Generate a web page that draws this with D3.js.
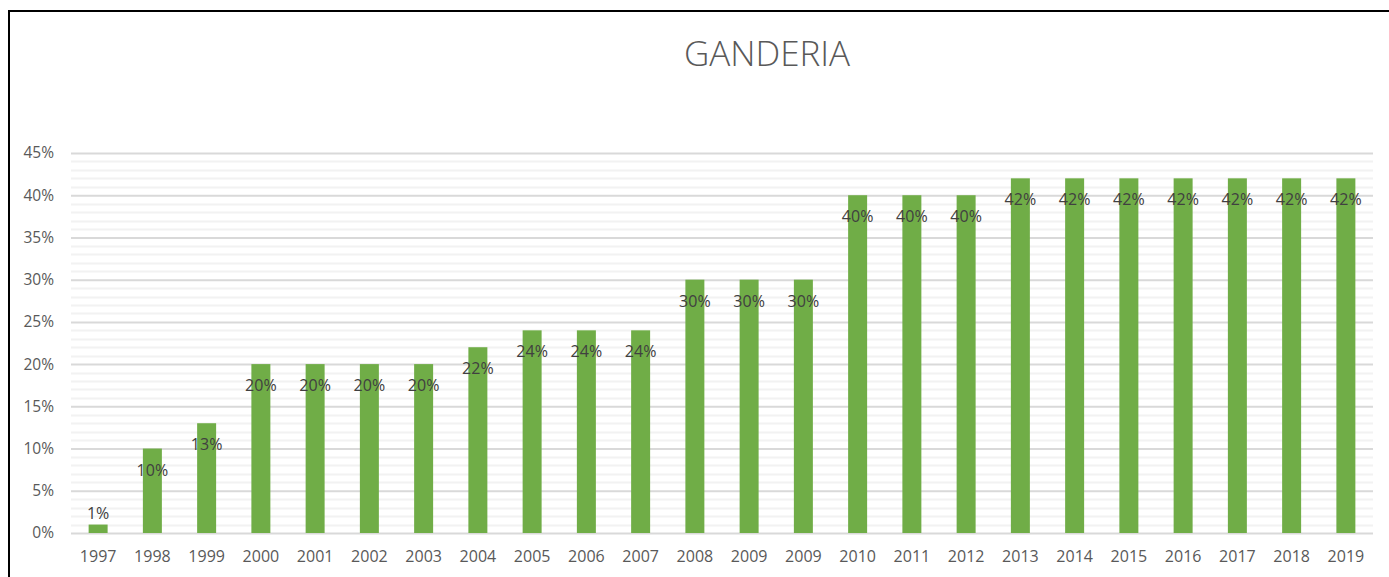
<!DOCTYPE html>
<html>
<head>
<meta charset="utf-8">
<script src="https://cdn.jsdelivr.net/npm/d3@7/dist/d3.min.js"></script>
<style>
  html, body { margin: 0; padding: 0; background: #fff; }
  svg { display: block; }
</style>
</head>
<body>
<svg id="chart" width="1389" height="577"></svg>
<script>
const title = "GANDERIA";
const categories = ["1997","1998","1999","2000","2001","2002","2003","2004","2005","2006","2007","2008","2009","2009","2010","2011","2012","2013","2014","2015","2016","2017","2018","2019"];
const values = [0.01,0.10,0.13,0.20,0.20,0.20,0.20,0.22,0.24,0.24,0.24,0.30,0.30,0.30,0.40,0.40,0.40,0.42,0.42,0.42,0.42,0.42,0.42,0.42];
const majorTicks = [0,0.05,0.10,0.15,0.20,0.25,0.30,0.35,0.40,0.45];
const minorTicks = d3.range(0, 46).map(d => d / 100);

(function () {
const svg = d3.select("#chart");
const font = "'Open Sans', 'Liberation Sans', sans-serif";

// frame
svg.append("rect").attr("x", 9).attr("y", 11).attr("width", 1420).attr("height", 620)
  .attr("fill", "none").attr("stroke", "#000").attr("stroke-width", 2);

const pLeft = 71, pRight = 1373, pTop = 153, pBottom = 533;
const x = d3.scaleBand().domain(d3.range(categories.length)).range([pLeft, pRight]).paddingInner(0.65).paddingOuter(0.325);
const y = d3.scaleLinear().domain([0, 0.45]).range([pBottom, pTop]);

// minor gridlines
svg.append("g").selectAll("line").data(minorTicks.filter(v => Math.round(v*100) % 5 !== 0)).join("line")
  .attr("x1", pLeft).attr("x2", pRight)
  .attr("y1", d => Math.round(y(d)) + 0.5).attr("y2", d => Math.round(y(d)) + 0.5)
  .attr("stroke", "#f2f2f2").attr("stroke-width", 2);

// major gridlines via axis
const yAxis = d3.axisLeft(y).tickValues(majorTicks).tickFormat(d3.format(".0%")).tickSize(-(pRight - pLeft)).tickPadding(17);
const gy = svg.append("g").attr("transform", `translate(${pLeft},0)`).call(yAxis);
gy.select(".domain").remove();
gy.selectAll(".tick line").attr("stroke", "#d9d9d9").attr("stroke-width", 2);
gy.selectAll(".tick text").attr("fill", "#595959").style("font-family", font).style("font-size", "15.5px");

// bars
svg.append("g").selectAll("rect").data(values).join("rect")
  .attr("x", (d, i) => x(i)).attr("width", x.bandwidth())
  .attr("y", d => y(d)).attr("height", d => pBottom - y(d))
  .attr("fill", "#70ad47");

// x axis
const xAxis = d3.axisBottom(x).tickFormat(i => categories[i]).tickSize(0).tickPadding(18);
const gx = svg.append("g").attr("transform", `translate(0,${pBottom})`).call(xAxis);
gx.select(".domain").remove();
gx.selectAll(".tick text").attr("fill", "#595959").style("font-family", font).style("font-size", "16px");

// data labels
svg.append("g").selectAll("text").data(values).join("text")
  .attr("x", (d, i) => x(i) + x.bandwidth() / 2)
  .attr("y", d => (pBottom - y(d)) < 30 ? y(d) - 6 : y(d) + 27)
  .attr("text-anchor", "middle")
  .attr("fill", "#404040")
  .style("font-family", font).style("font-size", "16px")
  .text(d => d3.format(".0%")(d));

// title
svg.append("text").attr("x", 767).attr("y", 66).attr("text-anchor", "middle")
  .attr("fill", "#595959").style("font-family", font).style("font-size", "35px").style("font-weight", 300)
  .text(title);
})();
</script>
</body>
</html>
